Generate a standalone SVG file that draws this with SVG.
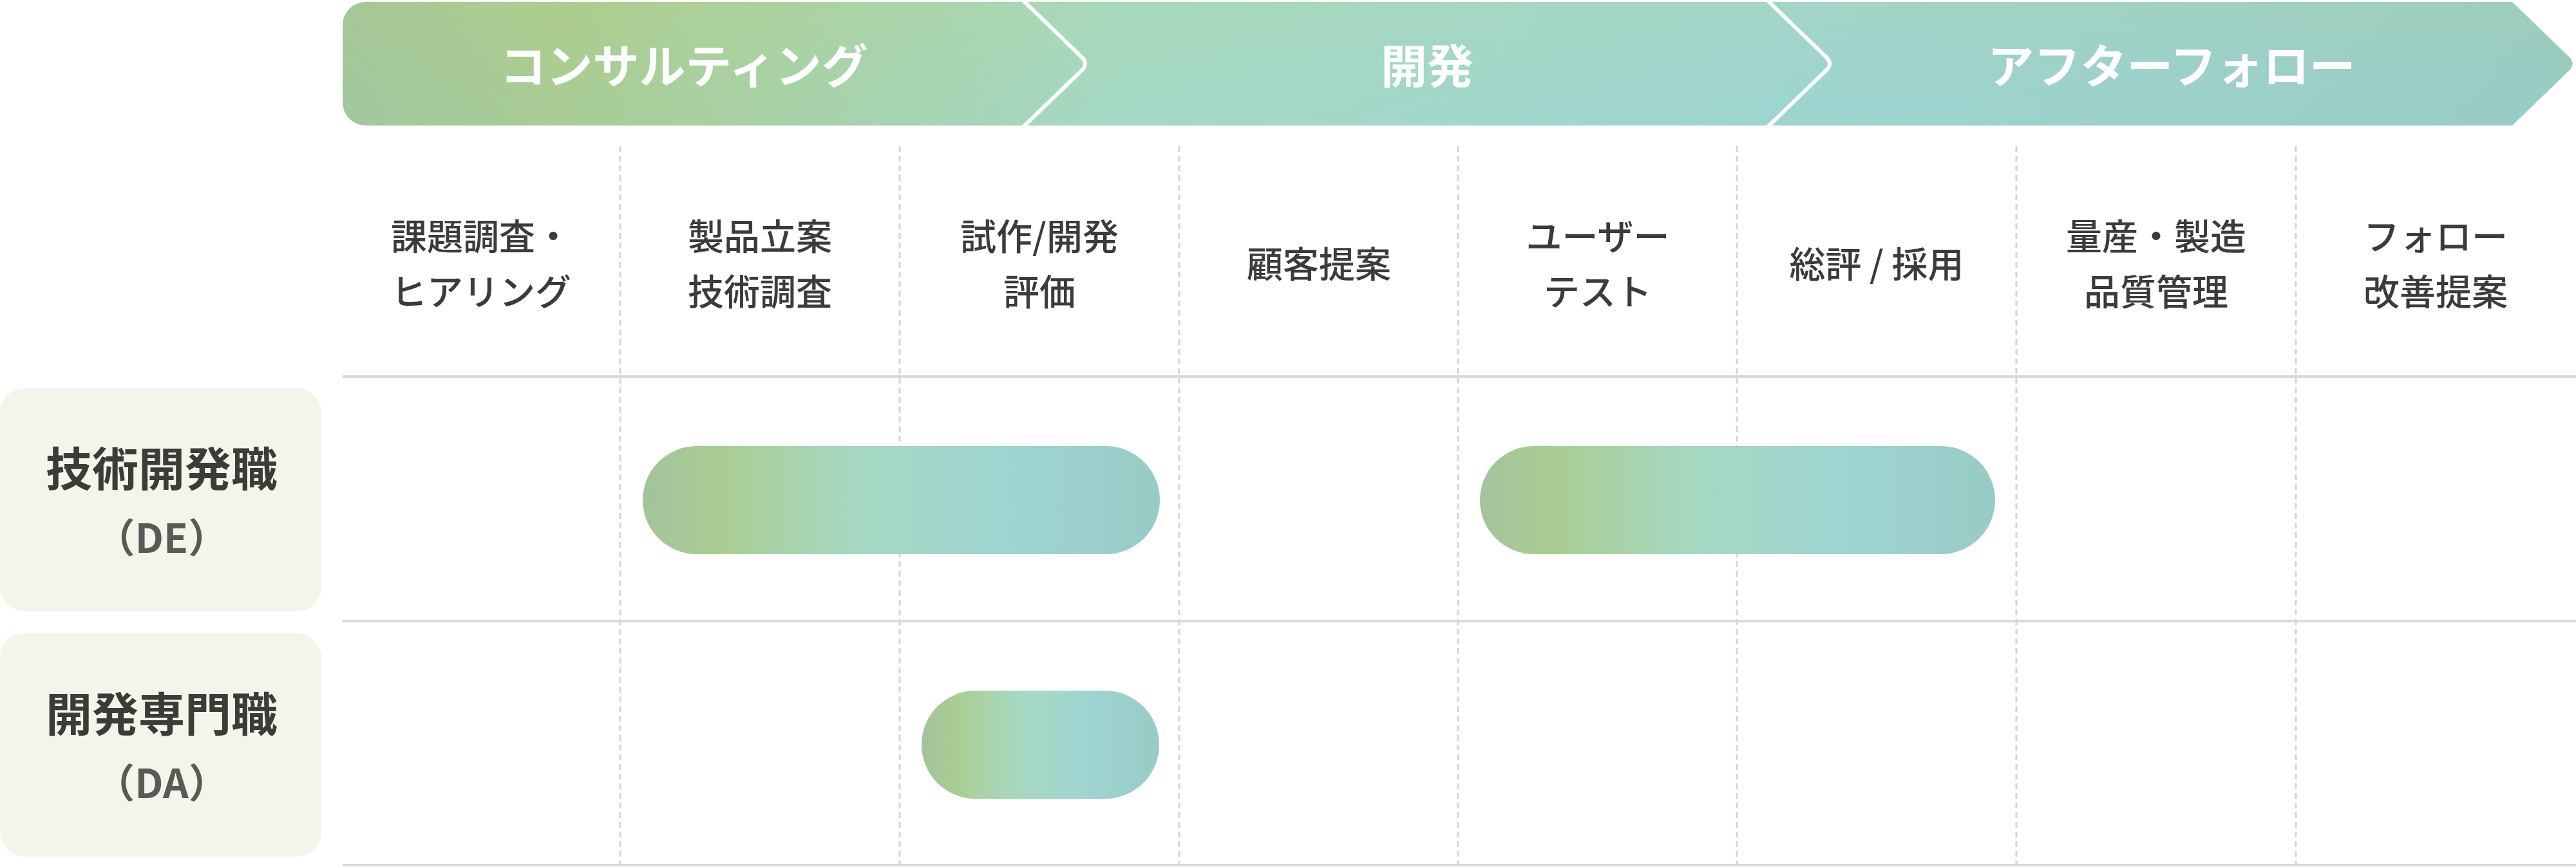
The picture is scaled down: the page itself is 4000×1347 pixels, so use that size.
<svg xmlns="http://www.w3.org/2000/svg" width="4000" height="1347" viewBox="0 0 4000 1347">
  <defs>
    <linearGradient id="hdrGrad" gradientUnits="userSpaceOnUse" x1="532" y1="0" x2="4000" y2="195">
      <stop offset="0" stop-color="#a3c59c"/>
      <stop offset="0.1" stop-color="#abcc91"/>
      <stop offset="0.35" stop-color="#a6d9c5"/>
      <stop offset="0.65" stop-color="#9fd5d3"/>
      <stop offset="1" stop-color="#99cbc6"/>
    </linearGradient>
    <linearGradient id="hdrShade" x1="0" y1="0" x2="0" y2="1">
      <stop offset="0" stop-color="#c0d870" stop-opacity="0.12"/>
      <stop offset="1" stop-color="#8fd0c0" stop-opacity="0.08"/>
    </linearGradient>
    <linearGradient id="pillGrad" x1="0" y1="0" x2="1" y2="0">
      <stop offset="0" stop-color="#a3c39c"/>
      <stop offset="0.15" stop-color="#aacd93"/>
      <stop offset="0.4" stop-color="#a6d8c0"/>
      <stop offset="0.7" stop-color="#9ed5d2"/>
      <stop offset="1" stop-color="#99cbc6"/>
    </linearGradient>
    <style>
      .hdr { font-family: 'Noto Sans CJK JP', 'Noto Sans', sans-serif; font-size: 72px; font-weight: 700; fill: #ffffff; text-anchor: middle; }
      .col { font-family: 'Noto Sans CJK JP', 'Noto Sans', sans-serif; font-size: 56px; font-weight: 500; fill: #3a3c38; text-anchor: middle; }
      .role { font-family: 'Noto Sans CJK JP', 'Noto Sans', sans-serif; font-size: 72px; font-weight: 700; fill: #3a3c38; text-anchor: middle; }
      .roleSub { font-family: 'Noto Sans CJK JP', 'Noto Sans', sans-serif; font-size: 62px; font-weight: 700; fill: #575a57; text-anchor: middle; }
      .box { fill: #f4f4eb; }
      .hline { stroke: #d9d9d9; stroke-width: 4; fill: none; }
      .vline { stroke: #d5d5d5; stroke-width: 3; stroke-dasharray: 9 6; fill: none; }
      .chev { stroke: #ffffff; stroke-width: 6; fill: none; stroke-linejoin: round; }
      .pill { fill: url(#pillGrad); }
    </style>
  </defs>

  <rect x="0" y="0" width="4000" height="1347" fill="#ffffff"/>

  <!-- grid lines -->
  <g id="connectors">
    <line class="vline" x1="963" y1="227" x2="963" y2="1347"/>
    <line class="vline" x1="1397" y1="227" x2="1397" y2="1347"/>
    <line class="vline" x1="1831" y1="227" x2="1831" y2="1347"/>
    <line class="vline" x1="2264" y1="227" x2="2264" y2="1347"/>
    <line class="vline" x1="2697" y1="227" x2="2697" y2="1347"/>
    <line class="vline" x1="3131" y1="227" x2="3131" y2="1347"/>
    <line class="vline" x1="3565" y1="227" x2="3565" y2="1347"/>
    <line class="hline" x1="532" y1="585" x2="4000" y2="585"/>
    <line class="hline" x1="532" y1="965" x2="4000" y2="965"/>
    <line class="hline" x1="532" y1="1344" x2="4000" y2="1344"/>
  </g>

  <!-- phase header -->
  <g id="phase-header">
    <path d="M568,3 H3901 L3990,89 Q3999,99 3990,109 L3901,195 H568 A36,36 0 0 1 532,159 V39 A36,36 0 0 1 568,3 Z" fill="url(#hdrGrad)"/>
    <path d="M568,3 H3901 L3990,89 Q3999,99 3990,109 L3901,195 H568 A36,36 0 0 1 532,159 V39 A36,36 0 0 1 568,3 Z" fill="url(#hdrShade)"/>
    <path class="chev" d="M1588,0 L1681,90 Q1689,99 1681,108 L1588,198"/>
    <path class="chev" d="M2744,0 L2837,90 Q2845,99 2837,108 L2744,198"/>
  </g>
  <g id="phase-consulting"><text class="hdr" x="1062" y="129">コンサルティング</text></g>
  <g id="phase-development"><text class="hdr" x="2216" y="129">開発</text></g>
  <g id="phase-afterfollow"><text class="hdr" x="3372" y="129">アフターフォロー</text></g>

  <!-- column labels -->
  <g id="col-1"><text class="col" x="747" y="388">課題調査・</text><text class="col" x="747" y="474">ヒアリング</text></g>
  <g id="col-2"><text class="col" x="1180" y="388">製品立案</text><text class="col" x="1180" y="474">技術調査</text></g>
  <g id="col-3"><text class="col" x="1614" y="388">試作/開発</text><text class="col" x="1614" y="474">評価</text></g>
  <g id="col-4"><text class="col" x="2048" y="431">顧客提案</text></g>
  <g id="col-5"><text class="col" x="2481" y="388">ユーザー</text><text class="col" x="2481" y="474">テスト</text></g>
  <g id="col-6"><text class="col" x="2914" y="431">総評 / 採用</text></g>
  <g id="col-7"><text class="col" x="3348" y="388">量産・製造</text><text class="col" x="3348" y="474">品質管理</text></g>
  <g id="col-8"><text class="col" x="3782" y="388">フォロー</text><text class="col" x="3782" y="474">改善提案</text></g>

  <!-- role rows -->
  <g id="role-de">
    <rect class="box" x="0" y="603" width="499" height="347" rx="38" ry="38"/>
    <text class="role" x="251" y="755">技術開発職</text>
    <text class="roleSub" x="251" y="859">（DE）</text>
  </g>
  <g id="role-da">
    <rect class="box" x="0" y="984" width="499" height="347" rx="38" ry="38"/>
    <text class="role" x="251" y="1136">開発専門職</text>
    <text class="roleSub" x="251" y="1240">（DA）</text>
  </g>

  <!-- bars -->
  <g id="bar-de-1"><rect class="pill" x="998" y="693" width="803" height="168" rx="84" ry="84"/></g>
  <g id="bar-de-2"><rect class="pill" x="2298" y="693" width="800" height="168" rx="84" ry="84"/></g>
  <g id="bar-da-1"><rect class="pill" x="1431" y="1073" width="369" height="168" rx="84" ry="84"/></g>
</svg>
